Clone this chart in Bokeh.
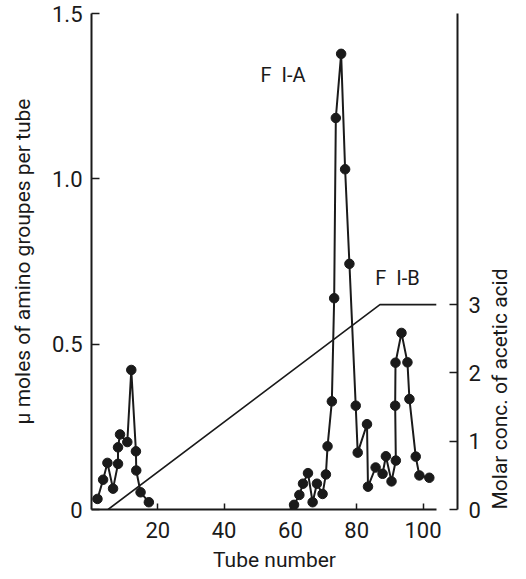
import math
from bokeh.plotting import figure
from bokeh.models import Range1d, LinearAxis, FixedTicker
from bokeh.core.properties import value
from bokeh.embed import file_html
from bokeh.resources import INLINE

# ---- data ----
tube_a = [1.8, 3.5, 4.8, 6.5, 8.0, 8.0, 8.6, 10.8, 12.0, 13.4, 13.5, 14.8, 17.3]
amino_a = [0.032, 0.090, 0.141, 0.063, 0.138, 0.188, 0.227, 0.204, 0.422, 0.176, 0.118, 0.052, 0.022]

tube_b = [61.1, 62.7, 63.8, 65.3, 66.7, 68.0, 69.7, 70.7, 71.2, 72.5, 73.2, 73.7, 75.3,
          76.5, 77.8, 79.7, 80.3, 83.1, 83.4, 85.7, 87.8, 88.8, 90.5, 91.8, 91.6, 91.7,
          93.5, 95.3, 95.9, 97.8, 98.9, 101.9]
amino_b = [0.014, 0.044, 0.078, 0.110, 0.022, 0.078, 0.047, 0.106, 0.191, 0.327, 0.639,
           1.184, 1.378, 1.029, 0.743, 0.314, 0.172, 0.258, 0.069, 0.127, 0.108, 0.161,
           0.085, 0.148, 0.314, 0.444, 0.534, 0.445, 0.334, 0.160, 0.103, 0.096]

grad_tube = [5, 87, 104]
grad_conc = [0, 3, 3]

x_ticks = [20, 40, 60, 80, 100]
y_ticks = [0, 0.5, 1.0, 1.5]
y_tick_labels = ["0", "0.5", "1.0", "1.5"]
acid_ticks = [0, 1, 2, 3]

peak_labels = ["F\u00a0\u00a0I-A", "F\u00a0\u00a0I-B"]
peak_label_x = [51.0, 85.6]
peak_label_y = [1.315, 0.70]

FONT = "Roboto"
INK = "#1a1a1a"

p = figure(width=526, height=579, output_backend="svg", toolbar_location=None,
           x_range=Range1d(0, 110.4), y_range=Range1d(0, 1.5),
           min_border_left=91, min_border_right=66, min_border_top=13,
           min_border_bottom=70)
p.extra_y_ranges = {"acid": Range1d(0, 7.263)}
p.outline_line_color = None
p.grid.visible = False
p.background_fill_color = "white"

right = LinearAxis(y_range_name="acid")
p.add_layout(right, "right")

xa = p.xaxis[0]
ya = p.yaxis[0]

for ax in (xa, ya, right):
    ax.axis_line_width = 2
    ax.axis_line_color = INK
    ax.major_tick_line_width = 1.5
    ax.major_tick_line_color = INK
    ax.minor_tick_line_color = None
    ax.major_tick_out = 0
    ax.major_tick_in = 8
    ax.major_label_text_font = FONT
    ax.major_label_text_font_size = "22px"
    ax.major_label_text_color = INK
    ax.axis_label_text_font = FONT
    ax.axis_label_text_font_style = "normal"
    ax.axis_label_text_color = INK

xa.ticker = FixedTicker(ticks=x_ticks)
xa.bounds = (0, 104)
xa.major_tick_in = 6
xa.major_label_standoff = 12
xa.axis_label = "Tube number"
xa.axis_label_text_font_size = "21px"
xa.axis_label_standoff = 7

ya.ticker = FixedTicker(ticks=y_ticks)
ya.major_label_overrides = {t: s for t, s in zip(y_ticks, y_tick_labels)}
ya.bounds = (0, 1.5)
ya.major_label_standoff = 9
ya.axis_label = "μ moles of amino groupes per tube"
ya.axis_label_text_font_size = "21px"
ya.axis_label_standoff = 14

right.ticker = FixedTicker(ticks=acid_ticks)
right.major_label_standoff = 11
right.axis_label = "Molar conc. of acetic acid"
right.axis_label_text_font_size = "21px"
right.axis_label_standoff = 16
right.axis_label_orientation = math.pi / 2
try:
    right.axis_label_align = "start"
except Exception:
    right.axis_label_align = "left"

# gradient line
p.line(grad_tube, grad_conc, y_range_name="acid", line_color=INK, line_width=1.6)

# elution profile
for xs, ys in ((tube_a, amino_a), (tube_b, amino_b)):
    p.line(xs, ys, line_color=INK, line_width=2)
    p.scatter(xs, ys, size=9.5, fill_color=INK, line_color=INK)

p.text(x=peak_label_x, y=peak_label_y, text=peak_labels,
       text_font=value(FONT), text_font_size="20px", text_color=INK,
       text_baseline="alphabetic", text_align="left")

open("out.html", "w").write(file_html(p, INLINE))
